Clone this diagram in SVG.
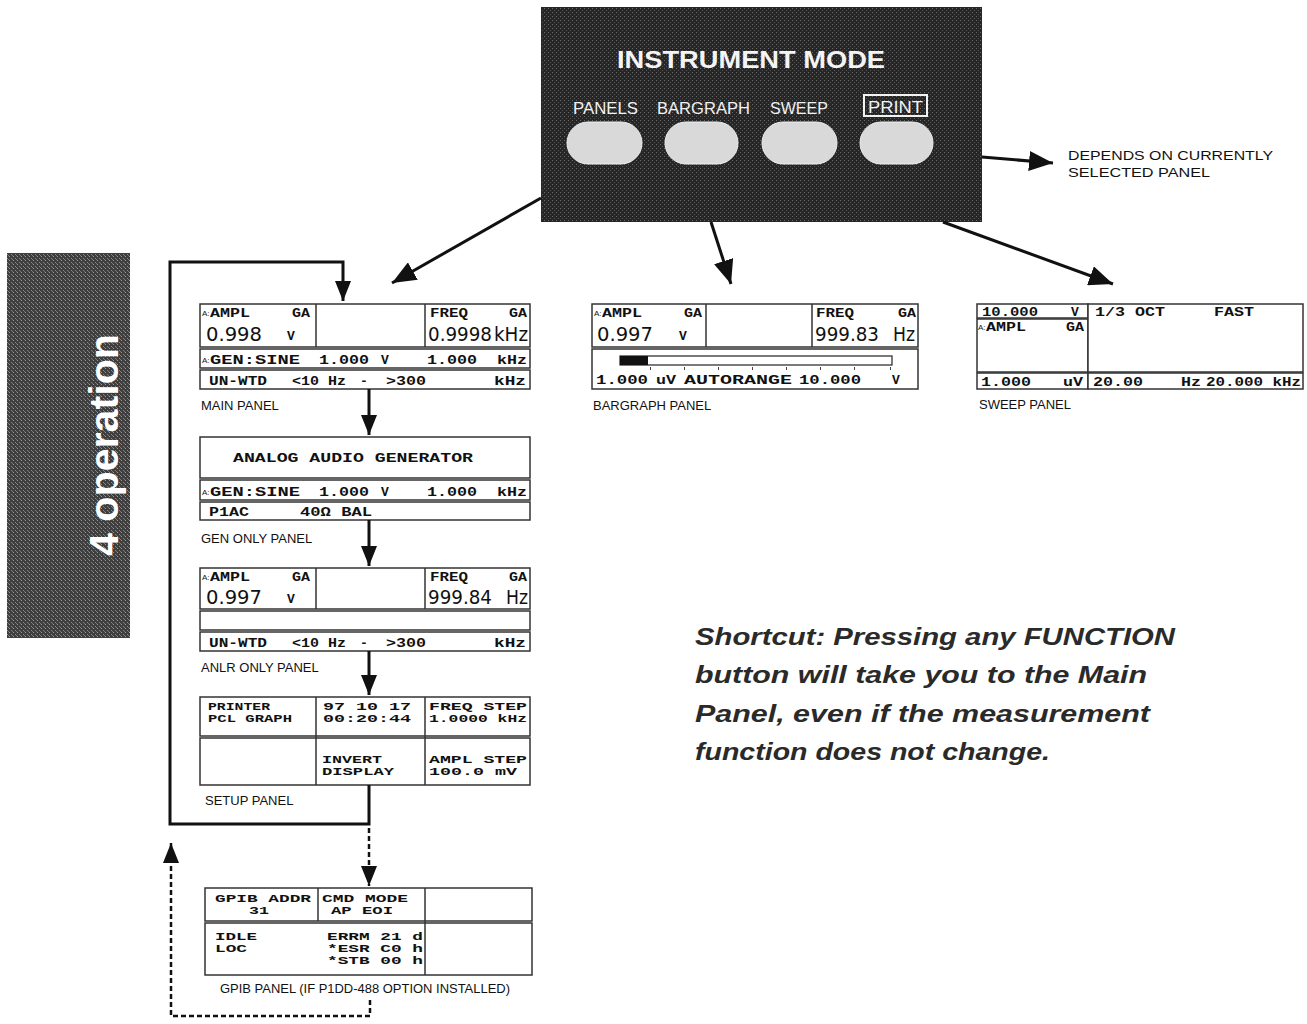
<svg xmlns="http://www.w3.org/2000/svg" width="1307" height="1024" viewBox="0 0 1307 1024">
<style>
.lcd{font-family:"Liberation Mono","DejaVu Sans Mono",monospace;font-weight:bold;font-size:13px;fill:#111}
.lcd2{font-family:"Liberation Mono","DejaVu Sans Mono",monospace;font-weight:bold;font-size:11.5px;fill:#111}
.big{font-family:"DejaVu Sans",sans-serif;font-size:19px;fill:#111}
.lbl{font-family:"Liberation Sans",Arial,sans-serif;font-size:13px;fill:#111}
.mk{font-family:"Liberation Sans",Arial,sans-serif;font-size:8px;fill:#111}
.cell{fill:#fff;stroke:#333;stroke-width:1.5}
.div{stroke:#333;stroke-width:1.5}
.btn{fill:#d9d9d9;stroke:#eee;stroke-width:1}
.btxt{font-family:"Liberation Sans",Arial,sans-serif;font-size:17px;fill:#f2f2f2}
.con{fill:none;stroke:#111;stroke-width:3}
.dash{fill:none;stroke:#111;stroke-width:2.5;stroke-dasharray:5 3}
.sc{font-family:"Liberation Sans",Arial,sans-serif;font-size:24px;font-weight:bold;font-style:italic;fill:#2a2a2a}
</style>
<defs>
<marker id="ah" viewBox="0 0 20 16" refX="20" refY="8" markerWidth="20" markerHeight="16" markerUnits="userSpaceOnUse" orient="auto">
<path d="M0,0 L20,8 L0,16 z" fill="#111"/>
</marker>
<marker id="ahb" viewBox="0 0 24 20" refX="24" refY="10" markerWidth="24" markerHeight="20" markerUnits="userSpaceOnUse" orient="auto">
<path d="M0,0 L24,10 L0,20 z" fill="#111"/>
</marker>
<pattern id="dith" width="4" height="4" patternUnits="userSpaceOnUse">
<rect width="4" height="4" fill="#262626"/>
<rect x="0" y="0" width="1" height="1" fill="#6a6a6a"/>
<rect x="2" y="2" width="1" height="1" fill="#555"/>
</pattern>
<pattern id="dith2" width="4" height="4" patternUnits="userSpaceOnUse">
<rect width="4" height="4" fill="#3e3e3e"/>
<rect x="1" y="0" width="1" height="1" fill="#9a9a9a"/>
<rect x="3" y="2" width="1" height="1" fill="#8a8a8a"/>
<rect x="0" y="3" width="1" height="1" fill="#777"/>
</pattern>
</defs>

<g id="side-tab">
<rect x="7" y="253" width="123" height="385" fill="url(#dith2)"/>
<text transform="translate(118,556) rotate(-90)" font-family="Liberation Sans,Arial,sans-serif" font-weight="bold" font-size="40" fill="#fff" textLength="222" lengthAdjust="spacingAndGlyphs">4 operation</text>
</g>

<g id="instrument-mode">
<rect x="541" y="7" width="441" height="215" fill="url(#dith)"/>
<text x="617" y="68" font-family="Liberation Sans,Arial,sans-serif" font-weight="bold" font-size="24" fill="#f4f4f4" textLength="268" lengthAdjust="spacingAndGlyphs">INSTRUMENT MODE</text>
<text class="btxt" x="573" y="114" textLength="65" lengthAdjust="spacingAndGlyphs">PANELS</text>
<text class="btxt" x="657" y="114" textLength="93" lengthAdjust="spacingAndGlyphs">BARGRAPH</text>
<text class="btxt" x="770" y="114" textLength="58" lengthAdjust="spacingAndGlyphs">SWEEP</text>
<rect x="864" y="95" width="63" height="21" fill="none" stroke="#f2f2f2" stroke-width="2"/>
<text class="btxt" x="868" y="113" textLength="55" lengthAdjust="spacingAndGlyphs">PRINT</text>
<rect class="btn" x="567" y="122" width="75" height="42" rx="21" ry="21"/>
<rect class="btn" x="665" y="122" width="73" height="42" rx="21" ry="21"/>
<rect class="btn" x="762" y="122" width="75" height="42" rx="21" ry="21"/>
<rect class="btn" x="860" y="122" width="73" height="42" rx="21" ry="21"/>
</g>

<g id="depends-note">
<text class="lbl" x="1068" y="160" textLength="205" lengthAdjust="spacingAndGlyphs">DEPENDS ON CURRENTLY</text>
<text class="lbl" x="1068" y="177" textLength="142" lengthAdjust="spacingAndGlyphs">SELECTED PANEL</text>
</g>

<g id="main-panel">
<rect class="cell" x="200" y="304" width="330" height="43"/>
<line class="div" x1="316" y1="304" x2="316" y2="347"/>
<line class="div" x1="425" y1="304" x2="425" y2="347"/>
<rect class="cell" x="200" y="349" width="330" height="19"/>
<rect class="cell" x="200" y="370" width="330" height="19"/>
<text class="mk" x="202" y="316">A:</text>
<text class="lcd" x="210" y="317" textLength="40" lengthAdjust="spacingAndGlyphs">AMPL</text>
<text class="lcd" x="292" y="317" textLength="18" lengthAdjust="spacingAndGlyphs">GA</text>
<text class="big" x="206" y="341" textLength="56" lengthAdjust="spacingAndGlyphs">0.998</text>
<text class="lcd" x="287" y="340" font-size="15">V</text>
<text class="lcd" x="430" y="317" textLength="38" lengthAdjust="spacingAndGlyphs">FREQ</text>
<text class="lcd" x="509" y="317" textLength="18" lengthAdjust="spacingAndGlyphs">GA</text>
<text class="big" x="428" y="341" textLength="64" lengthAdjust="spacingAndGlyphs">0.9998</text>
<text class="big" x="494" y="341" font-size="17" textLength="34" lengthAdjust="spacingAndGlyphs">kHz</text>
<text class="mk" x="202" y="363">A:</text>
<text class="lcd" x="210" y="364" textLength="90" lengthAdjust="spacingAndGlyphs">GEN:SINE</text>
<text class="lcd" x="319" y="364" textLength="50" lengthAdjust="spacingAndGlyphs">1.000</text>
<text class="lcd" x="381" y="364">V</text>
<text class="lcd" x="427" y="364" textLength="50" lengthAdjust="spacingAndGlyphs">1.000</text>
<text class="lcd" x="497" y="364" textLength="30" lengthAdjust="spacingAndGlyphs">kHz</text>
<text class="lcd" x="209" y="385" textLength="58" lengthAdjust="spacingAndGlyphs">UN-WTD</text>
<text class="lcd" x="292" y="385" textLength="54" lengthAdjust="spacingAndGlyphs">&lt;10 Hz</text>
<text class="lcd" x="360" y="385">-</text>
<text class="lcd" x="386" y="385" textLength="40" lengthAdjust="spacingAndGlyphs">&gt;300</text>
<text class="lcd" x="494" y="385" textLength="32" lengthAdjust="spacingAndGlyphs">kHz</text>
<text class="lbl" x="201" y="410">MAIN PANEL</text>
</g>

<g id="gen-only-panel">
<rect class="cell" x="200" y="437" width="330" height="41"/>
<rect class="cell" x="200" y="480" width="330" height="20"/>
<rect class="cell" x="200" y="502" width="330" height="18"/>
<text class="lcd" x="233" y="462" textLength="240" lengthAdjust="spacingAndGlyphs">ANALOG AUDIO GENERATOR</text>
<text class="mk" x="202" y="495">A:</text>
<text class="lcd" x="210" y="496" textLength="90" lengthAdjust="spacingAndGlyphs">GEN:SINE</text>
<text class="lcd" x="319" y="496" textLength="50" lengthAdjust="spacingAndGlyphs">1.000</text>
<text class="lcd" x="381" y="496">V</text>
<text class="lcd" x="427" y="496" textLength="50" lengthAdjust="spacingAndGlyphs">1.000</text>
<text class="lcd" x="497" y="496" textLength="30" lengthAdjust="spacingAndGlyphs">kHz</text>
<text class="lcd" x="209" y="516" textLength="40" lengthAdjust="spacingAndGlyphs">P1AC</text>
<text class="lcd" x="300" y="516" textLength="72" lengthAdjust="spacingAndGlyphs">40Ω BAL</text>
<text class="lbl" x="201" y="543">GEN ONLY PANEL</text>
</g>

<g id="anlr-only-panel">
<rect class="cell" x="200" y="568" width="330" height="41"/>
<line class="div" x1="316" y1="568" x2="316" y2="609"/>
<line class="div" x1="425" y1="568" x2="425" y2="609"/>
<rect class="cell" x="200" y="611" width="330" height="19"/>
<rect class="cell" x="200" y="632" width="330" height="19"/>
<text class="mk" x="202" y="580">A:</text>
<text class="lcd" x="210" y="581" textLength="40" lengthAdjust="spacingAndGlyphs">AMPL</text>
<text class="lcd" x="292" y="581" textLength="18" lengthAdjust="spacingAndGlyphs">GA</text>
<text class="big" x="206" y="604" textLength="56" lengthAdjust="spacingAndGlyphs">0.997</text>
<text class="lcd" x="287" y="603" font-size="15">V</text>
<text class="lcd" x="430" y="581" textLength="38" lengthAdjust="spacingAndGlyphs">FREQ</text>
<text class="lcd" x="509" y="581" textLength="18" lengthAdjust="spacingAndGlyphs">GA</text>
<text class="big" x="428" y="604" textLength="64" lengthAdjust="spacingAndGlyphs">999.84</text>
<text class="big" x="506" y="604" font-size="17" textLength="22" lengthAdjust="spacingAndGlyphs">Hz</text>
<text class="lcd" x="209" y="647" textLength="58" lengthAdjust="spacingAndGlyphs">UN-WTD</text>
<text class="lcd" x="292" y="647" textLength="54" lengthAdjust="spacingAndGlyphs">&lt;10 Hz</text>
<text class="lcd" x="360" y="647">-</text>
<text class="lcd" x="386" y="647" textLength="40" lengthAdjust="spacingAndGlyphs">&gt;300</text>
<text class="lcd" x="494" y="647" textLength="32" lengthAdjust="spacingAndGlyphs">kHz</text>
<text class="lbl" x="201" y="672">ANLR ONLY PANEL</text>
</g>

<g id="setup-panel">
<rect class="cell" x="200" y="697" width="330" height="39"/>
<rect class="cell" x="200" y="738" width="330" height="47"/>
<line class="div" x1="316" y1="697" x2="316" y2="785"/>
<line class="div" x1="425" y1="697" x2="425" y2="785"/>
<text class="lcd2" x="208" y="710" textLength="62" lengthAdjust="spacingAndGlyphs">PRINTER</text>
<text class="lcd2" x="208" y="722" textLength="84" lengthAdjust="spacingAndGlyphs">PCL GRAPH</text>
<text class="lcd2" x="323" y="710" textLength="88" lengthAdjust="spacingAndGlyphs">97 10 17</text>
<text class="lcd2" x="323" y="722" textLength="88" lengthAdjust="spacingAndGlyphs">00:20:44</text>
<text class="lcd2" x="429" y="710" textLength="98" lengthAdjust="spacingAndGlyphs">FREQ STEP</text>
<text class="lcd2" x="429" y="722" textLength="98" lengthAdjust="spacingAndGlyphs">1.0000 kHz</text>
<text class="lcd2" x="322" y="763" textLength="60" lengthAdjust="spacingAndGlyphs">INVERT</text>
<text class="lcd2" x="322" y="775" textLength="72" lengthAdjust="spacingAndGlyphs">DISPLAY</text>
<text class="lcd2" x="429" y="763" textLength="98" lengthAdjust="spacingAndGlyphs">AMPL STEP</text>
<text class="lcd2" x="429" y="775" textLength="88" lengthAdjust="spacingAndGlyphs">100.0 mV</text>
<text class="lbl" x="205" y="805">SETUP PANEL</text>
</g>

<g id="gpib-panel">
<rect class="cell" x="205" y="888" width="327" height="33"/>
<rect class="cell" x="205" y="923" width="327" height="52"/>
<line class="div" x1="318" y1="888" x2="318" y2="921"/>
<line class="div" x1="425" y1="888" x2="425" y2="975"/>
<text class="lcd2" x="215" y="902" textLength="96" lengthAdjust="spacingAndGlyphs">GPIB ADDR</text>
<text class="lcd2" x="249" y="914" textLength="20" lengthAdjust="spacingAndGlyphs">31</text>
<text class="lcd2" x="322" y="902" textLength="86" lengthAdjust="spacingAndGlyphs">CMD MODE</text>
<text class="lcd2" x="331" y="914" textLength="62" lengthAdjust="spacingAndGlyphs">AP EOI</text>
<text class="lcd2" x="215" y="940" textLength="42" lengthAdjust="spacingAndGlyphs">IDLE</text>
<text class="lcd2" x="215" y="952" textLength="32" lengthAdjust="spacingAndGlyphs">LOC</text>
<text class="lcd2" x="327" y="940" textLength="96" lengthAdjust="spacingAndGlyphs">ERRM 21 d</text>
<text class="lcd2" x="327" y="952" textLength="96" lengthAdjust="spacingAndGlyphs">*ESR C0 h</text>
<text class="lcd2" x="327" y="964" textLength="96" lengthAdjust="spacingAndGlyphs">*STB 00 h</text>
<text class="lbl" x="220" y="993" textLength="290" lengthAdjust="spacingAndGlyphs">GPIB PANEL (IF P1DD-488 OPTION INSTALLED)</text>
</g>

<g id="bargraph-panel">
<rect class="cell" x="592" y="304" width="326" height="43"/>
<line class="div" x1="706" y1="304" x2="706" y2="347"/>
<line class="div" x1="812" y1="304" x2="812" y2="347"/>
<rect class="cell" x="592" y="349" width="326" height="40"/>
<text class="mk" x="594" y="316">A:</text>
<text class="lcd" x="602" y="317" textLength="40" lengthAdjust="spacingAndGlyphs">AMPL</text>
<text class="lcd" x="684" y="317" textLength="18" lengthAdjust="spacingAndGlyphs">GA</text>
<text class="big" x="597" y="341" textLength="56" lengthAdjust="spacingAndGlyphs">0.997</text>
<text class="lcd" x="679" y="340" font-size="15">V</text>
<text class="lcd" x="816" y="317" textLength="38" lengthAdjust="spacingAndGlyphs">FREQ</text>
<text class="lcd" x="898" y="317" textLength="18" lengthAdjust="spacingAndGlyphs">GA</text>
<text class="big" x="815" y="341" textLength="64" lengthAdjust="spacingAndGlyphs">999.83</text>
<text class="big" x="893" y="341" font-size="17" textLength="22" lengthAdjust="spacingAndGlyphs">Hz</text>
<rect x="620" y="356" width="272" height="9" fill="#fff" stroke="#222" stroke-width="1.2"/>
<rect x="620" y="356" width="28" height="9" fill="#111"/>
<g fill="#444">
<rect x="650" y="367" width="1" height="3"/><rect x="684" y="367" width="1" height="3"/><rect x="718" y="367" width="1" height="3"/><rect x="752" y="367" width="1" height="3"/><rect x="786" y="367" width="1" height="3"/><rect x="820" y="367" width="1" height="3"/><rect x="854" y="367" width="1" height="3"/><rect x="890" y="367" width="1" height="3"/>
</g>
<text class="lcd" x="596" y="384" textLength="52" lengthAdjust="spacingAndGlyphs">1.000</text>
<text class="lcd" x="656" y="384" textLength="20" lengthAdjust="spacingAndGlyphs">uV</text>
<text class="lcd" x="684" y="384" textLength="108" lengthAdjust="spacingAndGlyphs">AUTORANGE</text>
<text class="lcd" x="799" y="384" textLength="62" lengthAdjust="spacingAndGlyphs">10.000</text>
<text class="lcd" x="892" y="384">V</text>
<text class="lbl" x="593" y="410">BARGRAPH PANEL</text>
</g>

<g id="sweep-panel">
<rect class="cell" x="977" y="304" width="111" height="14"/>
<rect class="cell" x="977" y="319" width="111" height="53"/>
<rect class="cell" x="977" y="373" width="111" height="16"/>
<rect class="cell" x="1088" y="304" width="215" height="68"/>
<rect class="cell" x="1088" y="373" width="215" height="16"/>
<text class="lcd" x="982" y="316" textLength="56" lengthAdjust="spacingAndGlyphs">10.000</text>
<text class="lcd" x="1071" y="316">V</text>
<text class="mk" x="978" y="330">A:</text>
<text class="lcd" x="986" y="331" textLength="40" lengthAdjust="spacingAndGlyphs">AMPL</text>
<text class="lcd" x="1066" y="331" textLength="18" lengthAdjust="spacingAndGlyphs">GA</text>
<text class="lcd" x="981" y="386" textLength="50" lengthAdjust="spacingAndGlyphs">1.000</text>
<text class="lcd" x="1063" y="386" textLength="20" lengthAdjust="spacingAndGlyphs">uV</text>
<text class="lcd" x="1095" y="316" textLength="70" lengthAdjust="spacingAndGlyphs">1/3 OCT</text>
<text class="lcd" x="1214" y="316" textLength="40" lengthAdjust="spacingAndGlyphs">FAST</text>
<text class="lcd" x="1093" y="386" textLength="50" lengthAdjust="spacingAndGlyphs">20.00</text>
<text class="lcd" x="1181" y="386" textLength="20" lengthAdjust="spacingAndGlyphs">Hz</text>
<text class="lcd" x="1206" y="386" textLength="95" lengthAdjust="spacingAndGlyphs">20.000 kHz</text>
<text class="lbl" x="979" y="409">SWEEP PANEL</text>
</g>

<g id="shortcut-note">
<text class="sc" x="695" y="645" textLength="480" lengthAdjust="spacingAndGlyphs">Shortcut:  Pressing any FUNCTION</text>
<text class="sc" x="695" y="683" textLength="452" lengthAdjust="spacingAndGlyphs">button will take you to the Main</text>
<text class="sc" x="695" y="722" textLength="455" lengthAdjust="spacingAndGlyphs">Panel, even if the measurement</text>
<text class="sc" x="695" y="760" textLength="355" lengthAdjust="spacingAndGlyphs">function does not change.</text>
</g>

<g id="connectors">
<line class="con" x1="541" y1="198" x2="392" y2="283" marker-end="url(#ahb)"/>
<line class="con" x1="711" y1="222" x2="731" y2="284" marker-end="url(#ahb)"/>
<line class="con" x1="943" y1="222" x2="1113" y2="284" marker-end="url(#ahb)"/>
<line class="con" x1="982" y1="157" x2="1053" y2="163" marker-end="url(#ahb)"/>
<line class="con" x1="369" y1="389" x2="369" y2="435" marker-end="url(#ah)"/>
<line class="con" x1="369" y1="520" x2="369" y2="566" marker-end="url(#ah)"/>
<line class="con" x1="369" y1="651" x2="369" y2="695" marker-end="url(#ah)"/>
<polyline class="con" points="369,785 369,824 170,824 170,262 343,262 343,301" marker-end="url(#ah)"/>
<line class="dash" x1="369" y1="828" x2="369" y2="886" marker-end="url(#ah)"/>
<polyline class="dash" points="370,1000 370,1016 171,1016 171,843" marker-end="url(#ah)"/>
</g>
</svg>
